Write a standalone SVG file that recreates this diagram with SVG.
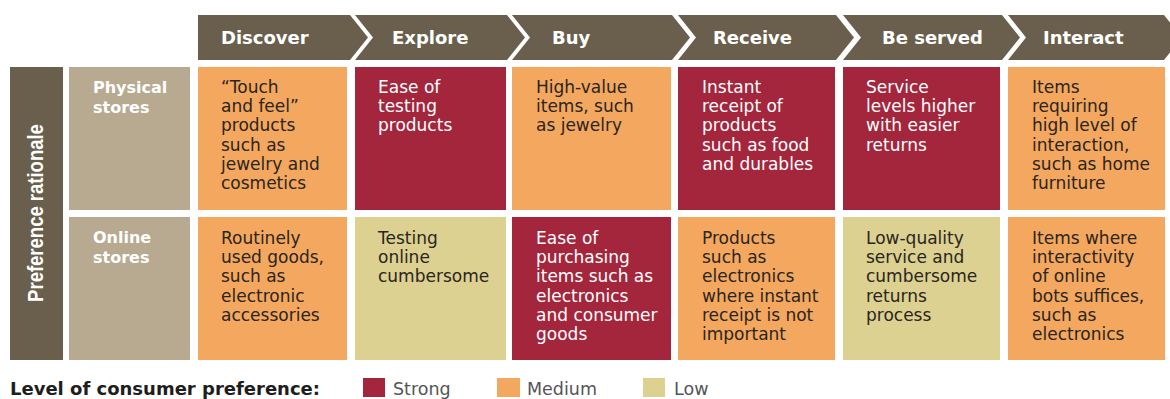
<svg xmlns="http://www.w3.org/2000/svg" width="1170" height="399" viewBox="0 0 1170 399">
<style>
.hd{fill:#6a5f4c}
.hdt{font-family:"DejaVu Sans",sans-serif;font-weight:bold;font-size:18px;fill:#ffffff}
.side{fill:#6a5f4c}
.lab{fill:#b8aa90}
.strong{fill:#a4263c}
.medium{fill:#f4a75e}
.low{fill:#dcd190}
.labt{font-family:"DejaVu Sans",sans-serif;font-weight:bold;font-size:16px;fill:#ffffff}
.tw{font-family:"DejaVu Sans",sans-serif;font-size:17px;fill:#ffffff}
.tk{font-family:"DejaVu Sans",sans-serif;font-size:17px;fill:#2a2520}
.leg{font-family:"DejaVu Sans",sans-serif;font-weight:bold;font-size:18px;fill:#1e1e1e}
.legt{font-family:"DejaVu Sans",sans-serif;font-size:17.5px;fill:#555555}
</style>
<rect width="1170" height="399" fill="#ffffff"/>

<g id="header-discover">
<path class="hd" d="M198,15 H350 L368,37.5 L350,60 H198 Z"/>
<text class="hdt" x="221" y="44">Discover</text>
</g>
<g id="header-explore">
<path class="hd" d="M355,15 H507 L525,37.5 L507,60 H355 L373,37.5 Z"/>
<text class="hdt" x="392" y="44">Explore</text>
</g>
<g id="header-buy">
<path class="hd" d="M512,15 H672 L690,37.5 L672,60 H512 L530,37.5 Z"/>
<text class="hdt" x="552" y="44">Buy</text>
</g>
<g id="header-receive">
<path class="hd" d="M678,15 H836 L854,37.5 L836,60 H678 L696,37.5 Z"/>
<text class="hdt" x="713" y="44">Receive</text>
</g>
<g id="header-beserved">
<path class="hd" d="M843,15 H1002 L1020,37.5 L1002,60 H843 L861,37.5 Z"/>
<text class="hdt" x="882" y="44">Be served</text>
</g>
<g id="header-interact">
<path class="hd" d="M1008,15 H1164 L1182,37.5 L1164,60 H1008 L1026,37.5 Z"/>
<text class="hdt" x="1043" y="44">Interact</text>
</g>

<g id="preference-rationale">
<rect class="side" x="10" y="67" width="53" height="293"/>
<text transform="translate(43,213) rotate(-90) scale(1,1.2)" text-anchor="middle" style="font-family:'Liberation Sans',sans-serif;font-weight:bold;font-size:18.5px;fill:#ffffff">Preference rationale</text>
</g>

<g id="label-physical">
<rect class="lab" x="69" y="67" width="121" height="143"/>
<text class="labt" x="93" y="93"><tspan x="93">Physical</tspan><tspan x="93" dy="20">stores</tspan></text>
</g>
<g id="label-online">
<rect class="lab" x="69" y="217" width="121" height="143"/>
<text class="labt" x="93" y="243"><tspan x="93">Online</tspan><tspan x="93" dy="20">stores</tspan></text>
</g>

<g id="physical-discover">
<rect class="medium" x="198" y="67" width="149" height="143"/>
<text class="tk" y="93"><tspan x="221">“Touch</tspan><tspan x="221" dy="19.2">and feel”</tspan><tspan x="221" dy="19.2">products</tspan><tspan x="221" dy="19.2">such as</tspan><tspan x="221" dy="19.2">jewelry and</tspan><tspan x="221" dy="19.2">cosmetics</tspan></text>
</g>
<g id="physical-explore">
<rect class="strong" x="355" y="67" width="151" height="143"/>
<text class="tw" y="93"><tspan x="378">Ease of</tspan><tspan x="378" dy="19.2">testing</tspan><tspan x="378" dy="19.2">products</tspan></text>
</g>
<g id="physical-buy">
<rect class="medium" x="512" y="67" width="159" height="143"/>
<text class="tk" y="93"><tspan x="536">High-value</tspan><tspan x="536" dy="19.2">items, such</tspan><tspan x="536" dy="19.2">as jewelry</tspan></text>
</g>
<g id="physical-receive">
<rect class="strong" x="678" y="67" width="157" height="143"/>
<text class="tw" y="93"><tspan x="702">Instant</tspan><tspan x="702" dy="19.2">receipt of</tspan><tspan x="702" dy="19.2">products</tspan><tspan x="702" dy="19.2">such as food</tspan><tspan x="702" dy="19.2">and durables</tspan></text>
</g>
<g id="physical-beserved">
<rect class="strong" x="843" y="67" width="157" height="143"/>
<text class="tw" y="93"><tspan x="866">Service</tspan><tspan x="866" dy="19.2">levels higher</tspan><tspan x="866" dy="19.2">with easier</tspan><tspan x="866" dy="19.2">returns</tspan></text>
</g>
<g id="physical-interact">
<rect class="medium" x="1008" y="67" width="157" height="143"/>
<text class="tk" y="93"><tspan x="1032">Items</tspan><tspan x="1032" dy="19.2">requiring</tspan><tspan x="1032" dy="19.2">high level of</tspan><tspan x="1032" dy="19.2">interaction,</tspan><tspan x="1032" dy="19.2">such as home</tspan><tspan x="1032" dy="19.2">furniture</tspan></text>
</g>

<g id="online-discover">
<rect class="medium" x="198" y="217" width="149" height="143"/>
<text class="tk" y="244"><tspan x="221">Routinely</tspan><tspan x="221" dy="19.2">used goods,</tspan><tspan x="221" dy="19.2">such as</tspan><tspan x="221" dy="19.2">electronic</tspan><tspan x="221" dy="19.2">accessories</tspan></text>
</g>
<g id="online-explore">
<rect class="low" x="355" y="217" width="151" height="143"/>
<text class="tk" y="244"><tspan x="378">Testing</tspan><tspan x="378" dy="19.2">online</tspan><tspan x="378" dy="19.2">cumbersome</tspan></text>
</g>
<g id="online-buy">
<rect class="strong" x="512" y="217" width="159" height="143"/>
<text class="tw" y="244"><tspan x="536">Ease of</tspan><tspan x="536" dy="19.2">purchasing</tspan><tspan x="536" dy="19.2">items such as</tspan><tspan x="536" dy="19.2">electronics</tspan><tspan x="536" dy="19.2">and consumer</tspan><tspan x="536" dy="19.2">goods</tspan></text>
</g>
<g id="online-receive">
<rect class="medium" x="678" y="217" width="157" height="143"/>
<text class="tk" y="244"><tspan x="702">Products</tspan><tspan x="702" dy="19.2">such as</tspan><tspan x="702" dy="19.2">electronics</tspan><tspan x="702" dy="19.2">where instant</tspan><tspan x="702" dy="19.2">receipt is not</tspan><tspan x="702" dy="19.2">important</tspan></text>
</g>
<g id="online-beserved">
<rect class="low" x="843" y="217" width="157" height="143"/>
<text class="tk" y="244"><tspan x="866">Low-quality</tspan><tspan x="866" dy="19.2">service and</tspan><tspan x="866" dy="19.2">cumbersome</tspan><tspan x="866" dy="19.2">returns</tspan><tspan x="866" dy="19.2">process</tspan></text>
</g>
<g id="online-interact">
<rect class="medium" x="1008" y="217" width="157" height="143"/>
<text class="tk" y="244"><tspan x="1032">Items where</tspan><tspan x="1032" dy="19.2">interactivity</tspan><tspan x="1032" dy="19.2">of online</tspan><tspan x="1032" dy="19.2">bots suffices,</tspan><tspan x="1032" dy="19.2">such as</tspan><tspan x="1032" dy="19.2">electronics</tspan></text>
</g>

<g id="legend">
<text class="leg" x="10" y="395">Level of consumer preference:</text>
<rect class="strong" x="363" y="378" width="22" height="19"/>
<text class="legt" x="393" y="395">Strong</text>
<rect class="medium" x="497" y="378" width="23" height="19"/>
<text class="legt" x="527" y="395">Medium</text>
<rect class="low" x="643" y="378" width="22" height="19"/>
<text class="legt" x="674" y="395">Low</text>
</g>
</svg>
